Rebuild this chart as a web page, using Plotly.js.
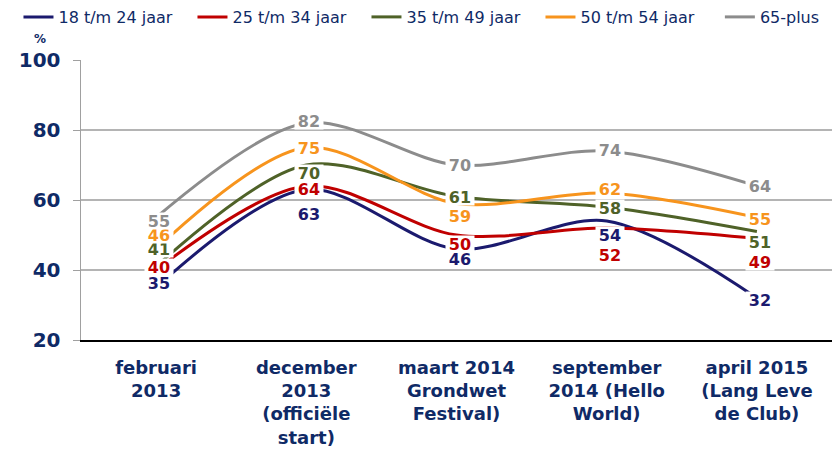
<!DOCTYPE html>
<html>
<head>
<meta charset="utf-8">
<script src="https://cdn.plot.ly/plotly-3.0.1.min.js"></script>
<style>
  html, body { margin: 0; padding: 0; background: #fff; }
  #chart { width: 840px; height: 452px; }
</style>
</head>
<body>
<div id="chart"></div>
<script>
// categorieën (x-as)
let categories = [
    'februari<br>2013',
    'december<br>2013<br>(officiële<br>start)',
    'maart 2014<br>Grondwet<br>Festival)',
    'september<br>2014 (Hello<br>World)',
    'april 2015<br>(Lang Leve<br>de Club)'
];

// reeksen
let names = ['18 t/m 24 jaar', '25 t/m 34 jaar', '35 t/m 49 jaar', '50 t/m 54 jaar', '65-plus'];
let v18_24 = [35, 63, 46, 54, 32];
let v25_34 = [40, 64, 50, 52, 49];
let v35_49 = [41, 70, 61, 58, 51];
let v50_54 = [46, 75, 59, 62, 55];
let v65plus = [55, 82, 70, 74, 64];

let yTicks = [20, 40, 60, 80, 100];

let series = [v18_24, v25_34, v35_49, v50_54, v65plus];
let colors = ['#1b1a6e', '#c00000', '#4f6228', '#f7941d', '#8c8c8c'];

// verschuiving van de labels in px (omhoog = positief)
let labelShift = [
    [5, -24, -10, -14, -2],
    [3, -3, -9, -27, -23],
    [18, -8, 0, -1, -10],
    [14, 0, -12, 4, -1],
    [-3, 2, 0, 1, 0]
];

let axisColor = '#0f2a66';
let fontFam = 'DejaVu Sans, Verdana, sans-serif';

let traces = [];
let annotations = [];

for (let s = 0; s < series.length; s++) {
    traces.push({
        type: 'scatter',
        mode: 'lines',
        name: names[s],
        x: categories,
        y: series[s],
        line: { color: colors[s], width: 3, shape: 'spline', smoothing: 0.9 },
        // laatste reeks in een tweede legenda, anders loopt de rij over
        legend: s === series.length - 1 ? 'legend2' : 'legend',
        hoverinfo: 'skip'
    });
    for (let i = 0; i < categories.length; i++) {
        annotations.push({
            x: i,
            y: series[s][i],
            xref: 'x',
            yref: 'y',
            text: String(series[s][i]),
            showarrow: false,
            xshift: 3,
            yshift: labelShift[s][i],
            bgcolor: '#ffffff',
            borderpad: 1,
            width: 26,
            height: 14,
            valign: 'middle',
            font: { family: fontFam, size: 16, weight: 'bold', color: colors[s] }
        });
    }
}

annotations.push({
    xref: 'paper', yref: 'paper',
    x: -0.054, y: 1.075,
    xanchor: 'center', yanchor: 'middle',
    text: '%',
    showarrow: false,
    font: { family: fontFam, size: 12, weight: 'bold', color: axisColor }
});

let legendBase = {
    orientation: 'h',
    xref: 'container', yref: 'container',
    y: 1.0,
    xanchor: 'left', yanchor: 'top',
    entrywidth: 129,
    entrywidthmode: 'pixels',
    font: { family: fontFam, size: 16, color: axisColor },
    itemwidth: 30,
    tracegroupgap: 0
};

let layout = {
    width: 840,
    height: 452,
    margin: { l: 81, r: 8, t: 60, b: 112 },
    paper_bgcolor: '#ffffff',
    plot_bgcolor: '#ffffff',
    showlegend: true,
    legend: Object.assign({}, legendBase, { x: 0.022 }),
    legend2: Object.assign({}, legendBase, { x: 0.857, entrywidth: 70 }),
    xaxis: {
        type: 'category',
        range: [-0.5, 4.5],
        showgrid: false,
        showline: true,
        linecolor: '#000000',
        linewidth: 2,
        ticks: '',
        ticklabelstandoff: 10,
        tickfont: { family: fontFam, size: 18, weight: 'bold', color: axisColor },
        fixedrange: true
    },
    yaxis: {
        range: [20, 100],
        tickvals: yTicks,
        ticktext: yTicks.map(String),
        showgrid: true,
        gridcolor: '#b4b4b4',
        gridwidth: 1.5,
        showline: true,
        linecolor: '#a0a0a0',
        linewidth: 1.5,
        ticks: 'outside',
        ticklen: 7,
        tickcolor: '#a0a0a0',
        ticklabelstandoff: 8,
        zeroline: false,
        tickfont: { family: fontFam, size: 20, weight: 'bold', color: axisColor },
        fixedrange: true
    },
    annotations: annotations
};

Plotly.newPlot('chart', traces, layout, { displayModeBar: false, staticPlot: true });
</script>
</body>
</html>
